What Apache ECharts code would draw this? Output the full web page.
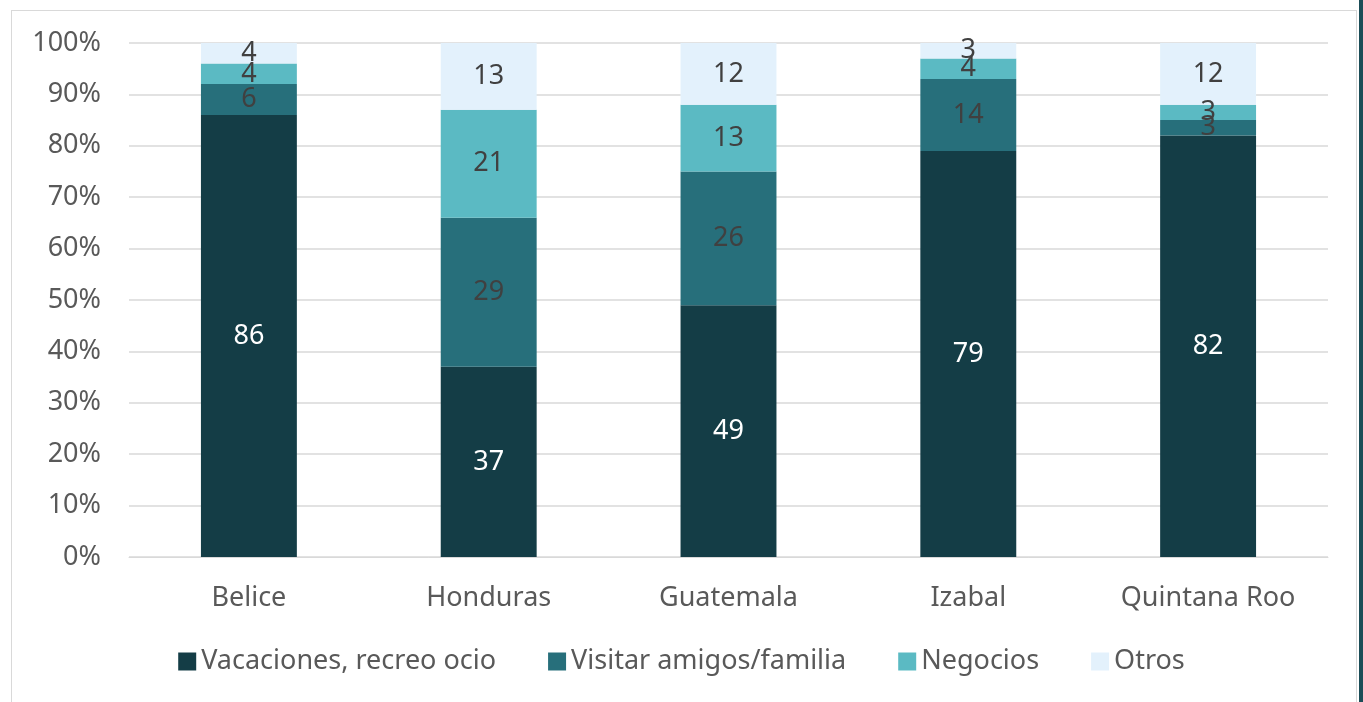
<!DOCTYPE html>
<html>
<head>
<meta charset="utf-8">
<script src="https://cdn.jsdelivr.net/npm/echarts@6/dist/echarts.min.js"></script>
<style>
  html, body { margin: 0; padding: 0; background: #fff; }
  #wrap { position: absolute; left: 11px; top: 10px; width: 1346px; height: 700px; border: 1px solid #d9d9d9; border-bottom: none; box-sizing: border-box; }
  #edge { position: absolute; left: 1359px; top: 0; width: 4px; height: 702px; background: #1b4d57; }
  #chart { position: absolute; left: 0; top: 0; width: 1363px; height: 702px; }
</style>
</head>
<body>
<div id="wrap"></div>
<div id="edge"></div>
<div id="chart"></div>
<script>
// categorias y valores (%)
var categorias = ["Belice", "Honduras", "Guatemala", "Izabal", "Quintana Roo"];
var vacaciones = [86, 37, 49, 79, 82];
var visitar = [6, 29, 26, 14, 3];
var negocios = [4, 21, 13, 4, 3];
var otros = [4, 13, 12, 3, 12];
var nombres = ["Vacaciones, recreo ocio", "Visitar amigos/familia", "Negocios", "Otros"];
var colores = ["#143d46", "#276f7b", "#5bbac3", "#e3f1fc"];

var fuente = "Noto Sans";

function serie(nombre, datos, color, colorTexto) {
  return {
    name: nombre,
    type: "bar",
    stack: "total",
    barWidth: "40%",
    data: datos,
    itemStyle: { color: color },
    label: {
      show: true,
      position: "inside",
      color: colorTexto,
      fontFamily: fuente,
      fontSize: 27
    },
    emphasis: { disabled: true }
  };
}

var chart = echarts.init(document.getElementById("chart"));
var option = {
  animation: false,
  textStyle: { fontFamily: fuente },
  grid: { left: 129, right: 35, top: 43, bottom: 145, containLabel: false },
  legend: {
    bottom: 22,
    left: "center",
    itemWidth: 18,
    itemHeight: 18,
    itemGap: 52,
    itemStyle: { borderWidth: 0 },
    icon: "rect",
    textStyle: { color: "#595959", fontSize: 27, fontFamily: fuente },
    data: nombres
  },
  xAxis: {
    type: "category",
    data: categorias,
    axisLine: { lineStyle: { color: "#d9d9d9" } },
    axisTick: { show: false },
    axisLabel: { color: "#595959", fontSize: 27, margin: 28, fontFamily: fuente }
  },
  yAxis: {
    type: "value",
    min: 0,
    max: 100,
    interval: 10,
    axisLabel: { formatter: "{value}%", color: "#595959", fontSize: 27, margin: 28, fontFamily: fuente },
    splitLine: { lineStyle: { color: "#d9d9d9", width: 1.5 } },
    axisLine: { show: false },
    axisTick: { show: false }
  },
  series: [
    serie(nombres[0], vacaciones, colores[0], "#ffffff"),
    serie(nombres[1], visitar, colores[1], "#404040"),
    serie(nombres[2], negocios, colores[2], "#404040"),
    serie(nombres[3], otros, colores[3], "#404040")
  ]
};
chart.setOption(option);
</script>
</body>
</html>
